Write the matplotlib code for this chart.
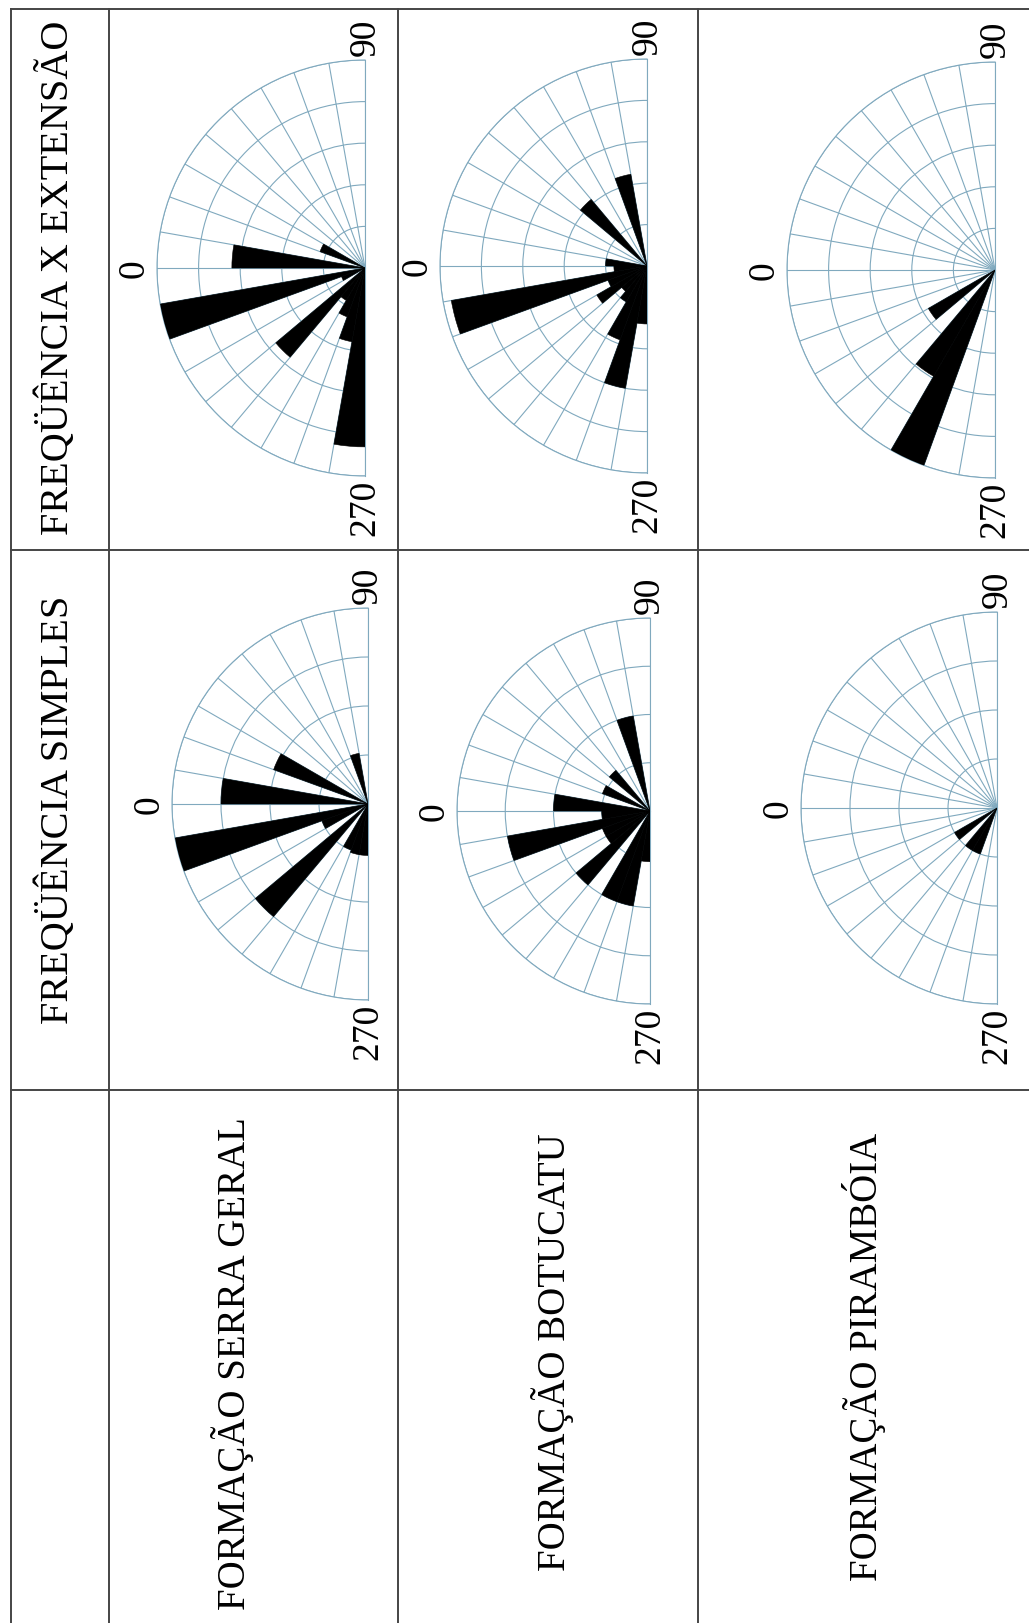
import numpy as np
import matplotlib.pyplot as plt

plt.rcParams['font.family'] = ['Liberation Serif', 'DejaVu Serif']

# row / column titles (the whole table is drawn turned 90 degrees)
row_titles = ["FREQÜÊNCIA X EXTENSÃO", "FREQÜÊNCIA SIMPLES"]
col_titles = ["FORMAÇÃO SERRA GERAL", "FORMAÇÃO BOTUCATU", "FORMAÇÃO PIRAMBÓIA"]

# azimuth classes (start of 10 degree class) and lengths in ring units
sg_fe_az = [0, 20, 340, 330, 310, 300, 290, 280, 270]
sg_fe_len = [3.2, 1.15, 5.0, 0.6, 2.8, 0.9, 1.25, 1.8, 4.3]
bo_fe_az = [70, 40, 0, 350, 340, 330, 320, 310, 300, 290, 280, 270]
bo_fe_len = [2.25, 2.1, 1.0, 0.8, 4.8, 1.0, 1.4, 0.8, 1.0, 1.9, 3.0, 1.4]
pi_fe_az = [320, 300, 290]
pi_fe_len = [1.85, 2.95, 5.0]

sg_fs_az = [70, 20, 0, 340, 330, 310, 290, 280, 270]
sg_fs_len = [1.05, 2.05, 3.0, 4.0, 1.0, 3.0, 1.0, 1.05, 1.05]
bo_fs_az = [70, 40, 20, 0, 350, 340, 330, 320, 310, 290, 280, 270]
bo_fs_len = [2.0, 1.1, 1.05, 2.0, 1.0, 3.0, 1.05, 1.05, 2.0, 2.0, 2.0, 1.05]
pi_fs_az = [320, 300, 290]
pi_fs_len = [1.0, 1.0, 1.0]

W, H = 1029, 1624
fig = plt.figure(figsize=(W / 100, H / 100), dpi=100)
bg = fig.add_axes([0, 0, 1, 1])
bg.set_xlim(0, W)
bg.set_ylim(H, 0)
bg.axis('off')

line_c = '#454545'
for y in [10, 551, 1091]:
    bg.plot([11, W], [y, y], color=line_c, lw=1.4)
for x in [11, 109, 398, 698]:
    bg.plot([x, x], [10, H], color=line_c, lw=1.4)

bg.text(57, 278, row_titles[0], rotation=90, ha='center', va='center', fontsize=29)
bg.text(57, 810, row_titles[1], rotation=90, ha='center', va='center', fontsize=29)
for x, y, t in zip([232, 552, 864], [1364, 1352, 1357], col_titles):
    bg.text(x, y, t, rotation=90, ha='center', va='center', fontsize=28)

grid_c = '#80a9be'


def rose(cx, cy, R, az, length, nrings):
    # a half polar axes is fitted into a square box, centre at 3/4 of its width
    ax = fig.add_axes([(cx - 1.5 * R) / W, 1 - (cy + R) / H, 2 * R / W, 2 * R / H],
                      projection='polar')
    ax.set_theta_zero_location('W')
    ax.set_theta_direction(-1)
    ax.set_thetamin(-90)
    ax.set_thetamax(90)
    ax.set_rlim(0, nrings)
    ax.set_yticks(np.arange(1, nrings + 1))
    ax.set_yticklabels([])
    ax.set_xticks(np.radians(np.arange(-90, 91, 10)))
    ax.set_xticklabels([])
    ax.tick_params(length=0)
    ax.grid(True, color=grid_c, lw=0.8)
    ax.set_axisbelow(True)
    for sp in ax.spines.values():
        sp.set_color(grid_c)
        sp.set_linewidth(0.8)
    ax.patch.set_alpha(0)

    az = np.array(az, dtype=float)
    az = np.where(az > 180, az - 360, az)
    ax.bar(np.radians(az + 5), length, width=np.radians(10), bottom=0,
           color='black', edgecolor='black', linewidth=0.4, zorder=3)

    kw = dict(textcoords='offset pixels', rotation=90, fontsize=27,
              annotation_clip=False)
    ax.annotate('0', xy=(0, nrings), xytext=(-5, 0), ha='right', va='center', **kw)
    ax.annotate('90', xy=(np.pi / 2, nrings), xytext=(0, 5), ha='center', va='bottom', **kw)
    ax.annotate('270', xy=(-np.pi / 2, nrings), xytext=(0, -3), ha='center', va='top', **kw)
    return ax


rose(365, 269, 208, sg_fe_az, sg_fe_len, 5)
rose(647, 267, 207, bo_fe_az, bo_fe_len, 5)
rose(995, 271, 208, pi_fe_az, pi_fe_len, 5)
rose(368, 805, 196, sg_fs_az, sg_fs_len, 4)
rose(650, 812, 193, bo_fs_az, bo_fs_len, 4)
rose(997, 809, 196, pi_fs_az, pi_fs_len, 4)

fig.savefig('out.png', dpi=100)
